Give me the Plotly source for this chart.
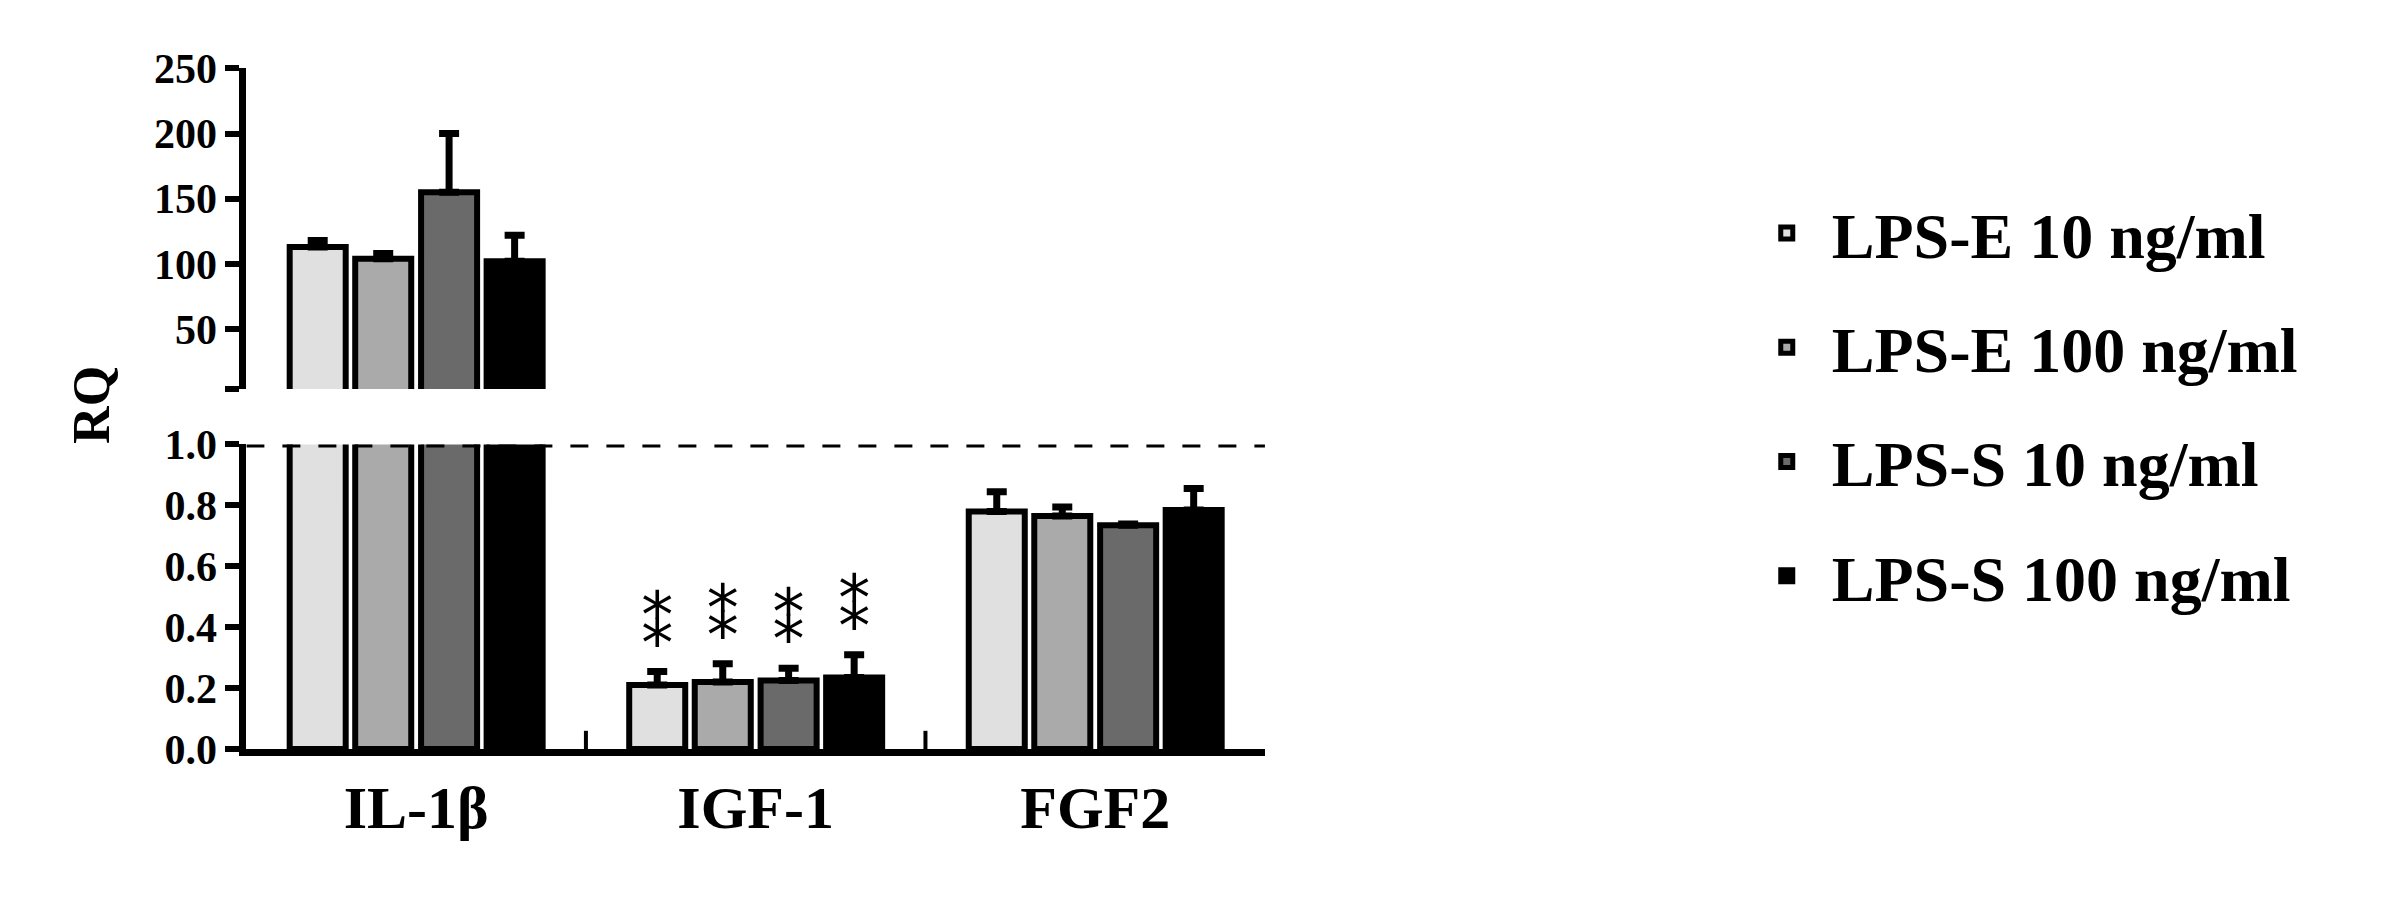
import plotly.graph_objects as go

genes = ["<b>IL-1β</b>", "<b>IGF-1</b>", "<b>FGF2</b>"]
series = ["LPS-E 10 ng/ml", "LPS-E 100 ng/ml", "LPS-S 10 ng/ml", "LPS-S 100 ng/ml"]
colors = ["#e0e0e0", "#aaaaaa", "#6a6a6a", "#000000"]
# IL-1beta values (upper broken axis)
il1b_vals = [113, 104, 155, 102]
il1b_err = [5, 4, 45, 20]
# IGF-1 and FGF2 values (lower axis)
igf1_vals = [0.21, 0.22, 0.225, 0.235]
igf1_err = [0.045, 0.06, 0.04, 0.075]
fgf2_vals = [0.78, 0.765, 0.735, 0.785]
fgf2_err = [0.065, 0.03, 0.004, 0.07]
sig_mark = "*"

offsets = [-0.29, -0.097, 0.097, 0.29]
bw = 0.165
FONT = "Liberation Serif"

fig = go.Figure()
for i, s in enumerate(series):
    m = dict(color=colors[i], line=dict(color="black", width=6))
    fig.add_trace(go.Bar(x=[0 + offsets[i]], y=[il1b_vals[i]], width=bw, marker=m,
                         error_y=dict(type="data", symmetric=False, array=[il1b_err[i]], arrayminus=[0],
                                      color="black", thickness=7, width=10),
                         xaxis="x", yaxis="y2", showlegend=False))
    fig.add_trace(go.Bar(x=[0 + offsets[i], 1 + offsets[i], 2 + offsets[i]],
                         y=[il1b_vals[i], igf1_vals[i], fgf2_vals[i]], width=bw, marker=m,
                         error_y=dict(type="data", symmetric=False, array=[0, igf1_err[i], fgf2_err[i]],
                                      arrayminus=[0, 0, 0], color="black", thickness=7, width=10),
                         name="<b>" + s + "</b>", legendgroup=s, xaxis="x", yaxis="y"))
    top = igf1_vals[i] + igf1_err[i]
    fig.add_trace(go.Scatter(x=[1 + offsets[i], 1 + offsets[i]], y=[top + 0.075, top + 0.165],
                             mode="text", text=[sig_mark, sig_mark], textposition="middle center",
                             textfont=dict(family="DejaVu Sans", size=64, color="black"),
                             showlegend=False, xaxis="x", yaxis="y", cliponaxis=False))

fig.add_shape(type="line", xref="x", yref="y", x0=-0.5, x1=2.5, y0=1, y1=1,
              line=dict(color="black", width=6, dash="dash"))
for sx in [0.5, 1.5]:
    fig.add_shape(type="line", xref="x", yref="y", x0=sx, x1=sx, y0=0, y1=0.06,
                  line=dict(color="black", width=4))

tickfont = dict(family=FONT, size=42, color="black")
fig.update_layout(
    width=2408, height=897, margin=dict(l=0, r=0, t=0, b=0),
    plot_bgcolor="white", paper_bgcolor="white", barmode="overlay",
    xaxis=dict(domain=[0.099, 0.522], range=[-0.5, 2.5], tickvals=[0, 1, 2], ticktext=genes,
               showline=True, linecolor="black", linewidth=7, ticks="", showgrid=False,
               zeroline=False, tickfont=dict(family=FONT, size=60, color="black"), anchor="y"),
    yaxis=dict(domain=[0.155, 0.513], range=[0, 1.0], tickvals=[0, 0.2, 0.4, 0.6, 0.8, 1.0],
               ticktext=["<b>0.0</b>", "<b>0.2</b>", "<b>0.4</b>", "<b>0.6</b>", "<b>0.8</b>", "<b>1.0</b>"],
               showline=True, linecolor="black", linewidth=7, ticks="outside", ticklen=14,
               tickwidth=6, tickcolor="black", showgrid=False, zeroline=False, tickfont=tickfont,
               anchor="x"),
    yaxis2=dict(domain=[0.578, 0.955], range=[4, 250], tickvals=[4, 50, 100, 150, 200, 250],
                ticktext=["", "<b>50</b>", "<b>100</b>", "<b>150</b>", "<b>200</b>", "<b>250</b>"],
                showline=True, linecolor="black", linewidth=7, ticks="outside", ticklen=14,
                tickwidth=6, tickcolor="black", showgrid=False, zeroline=False, tickfont=tickfont,
                anchor="x"),
    legend=dict(x=0.72, y=0.56, xanchor="left", yanchor="middle",
                font=dict(family=FONT, size=64, color="black"), tracegroupgap=28,
                itemwidth=80),
    annotations=[dict(text="<b>RQ</b>", x=0.022, y=0.56, xref="paper", yref="paper",
                      textangle=-90, showarrow=False, font=dict(family=FONT, size=52, color="black"))],
    font=dict(family=FONT, color="black"),
)
fig.write_html("out.html")
